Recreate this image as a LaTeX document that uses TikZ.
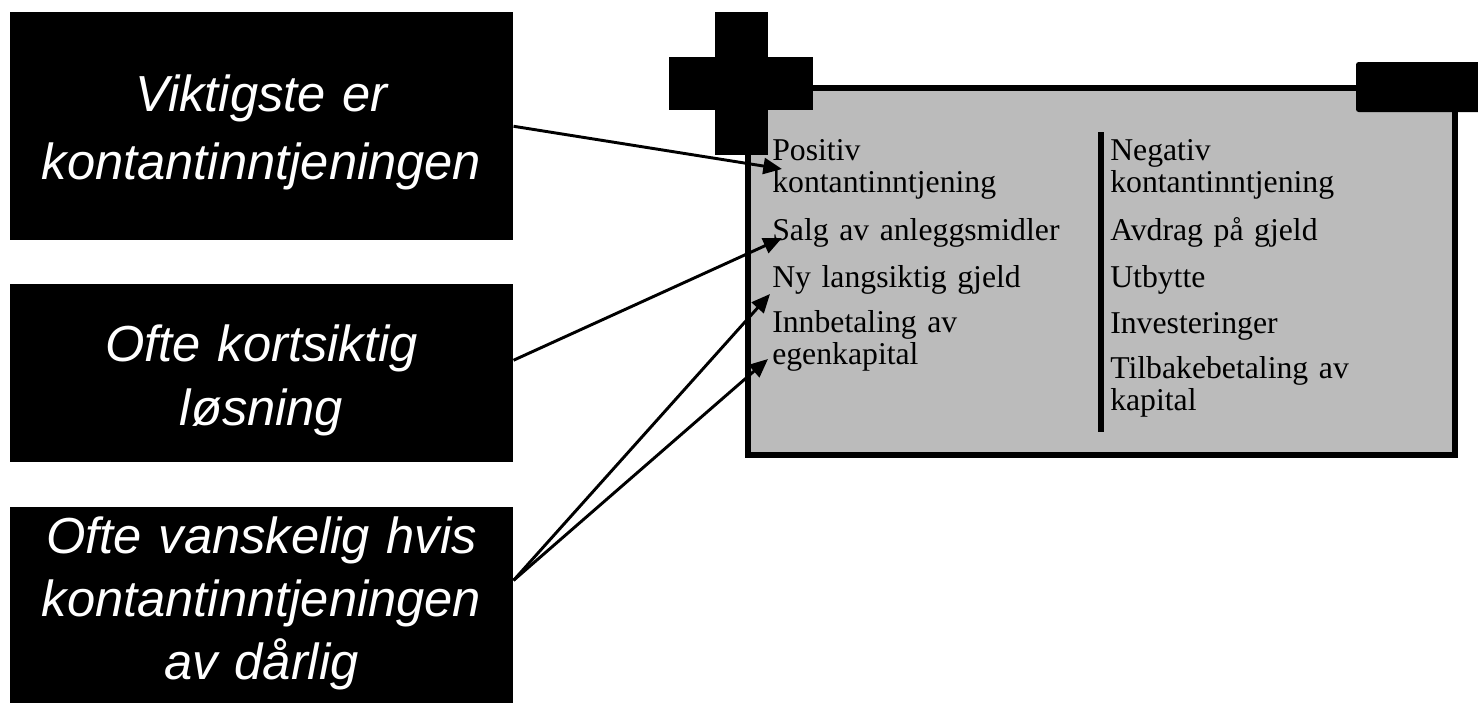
\documentclass[tikz,border=0pt]{standalone}
\usepackage{fontspec}
\setmainfont{Liberation Serif}
\newfontfamily\boxfont{Liberation Sans}
\usetikzlibrary{arrows.meta,calc}
\definecolor{battgray}{RGB}{187,187,187}
\begin{document}
\begin{tikzpicture}[x=0.75pt,y=-0.75pt,
  blackbox/.style={fill=black, draw=none, inner sep=0pt, anchor=north west, minimum width=377.25pt},
  boxtext/.style={text=white, inner sep=0pt, anchor=base, text width=370pt, align=center},
  item/.style={inner sep=0pt, anchor=base west, text width=250pt, align=left, font=\fontsize{23.8}{24}\selectfont},
  conn/.style={-{Triangle[length=14pt,width=12pt]}, line width=2.2pt},
  battline/.style={line width=4pt},
  term/.style={fill=black, draw=none}]
\useasboundingbox (0,0) rectangle (1478,703);
% battery body
\draw[battline, fill=battgray] (748,88) rectangle (1455,455);
% plus terminal
\fill[term] (715,12) rectangle (768,155);
\fill[term] (669,57) rectangle (813,110);
% minus terminal
\fill[term, rounded corners=2pt] (1356,62) rectangle (1495,112);
% divider
\draw[line width=3.8pt] (1101,132) -- (1101,432);
% left column
\node[item] (l1) at (772,160) {Positiv\\kontantinntjening};
\node[item] (l2) at (772,240) {Salg av anleggsmidler};
\node[item] (l3) at (772,287) {Ny langsiktig gjeld};
\node[item] (l4) at (772,332) {Innbetaling av\\egenkapital};
% right column
\node[item] (r1) at (1110,160) {Negativ\\kontantinntjening};
\node[item] (r2) at (1110,240) {Avdrag på gjeld};
\node[item] (r3) at (1110,287) {Utbytte};
\node[item] (r4) at (1110,333) {Investeringer};
\node[item] (r5) at (1110,378) {Tilbakebetaling av\\kapital};
% black boxes
\node[blackbox, minimum height=171pt] (b1) at (10,12) {};
\node[blackbox, minimum height=133.5pt] (b2) at (10,284) {};
\node[blackbox, minimum height=160pt] (b3) at (10,507) {};
\node[boxtext, font=\boxfont\itshape\fontsize{38}{51}\selectfont] (t1) at (261.5,111) {Viktigste er\\kontantinntjeningen};
\node[boxtext, font=\boxfont\itshape\fontsize{38}{48}\selectfont] (t2) at (261.5,361) {Ofte kortsiktig\\løsning};
\node[boxtext, font=\boxfont\itshape\fontsize{38}{47.5}\selectfont] (t3) at (261.5,553) {Ofte vanskelig hvis\\kontantinntjeningen\\av dårlig};
% arrow targets
\coordinate (p1) at (782,169);
\coordinate (p2) at (782,238);
\coordinate (p3) at (770,294);
\coordinate (p4) at (768,359);
\draw[conn] (b1.east) -- (p1);
\draw[conn] ($(b2.north east)!0.427!(b2.south east)$) -- (p2);
\draw[conn] ($(b3.north east)!0.343!(b3.south east)$) -- (p3);
\draw[conn] ($(b3.north east)!0.343!(b3.south east)$) -- (p4);
\end{tikzpicture}
\end{document}
